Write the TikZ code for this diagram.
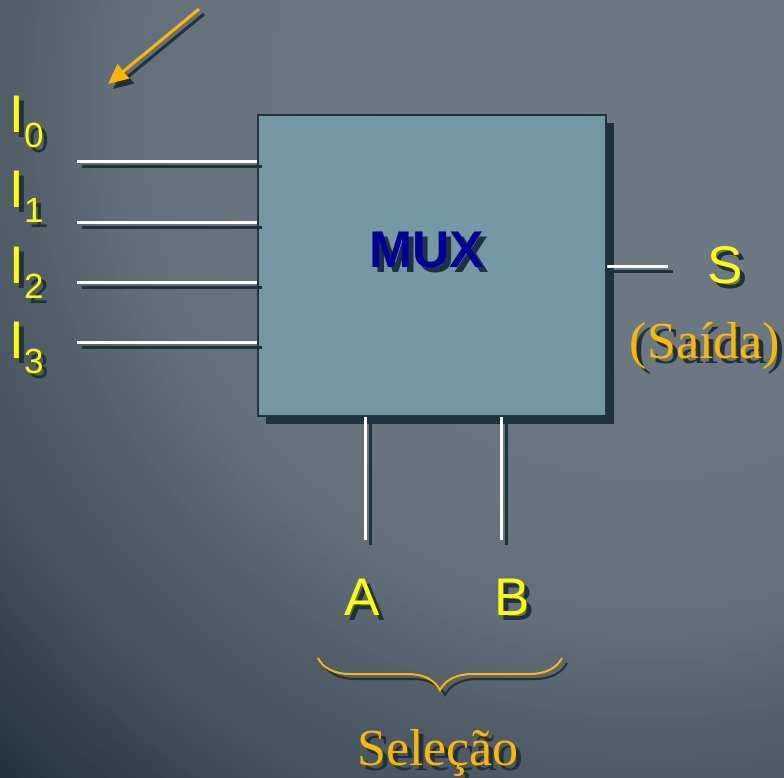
\documentclass[tikz,border=0pt]{standalone}
\usepackage{fontspec}
\setmainfont{Liberation Serif}
\newfontfamily\arialfont{Liberation Sans}
\usetikzlibrary{positioning,calc,shadows,decorations.pathreplacing,arrows.meta}

\definecolor{bga}{RGB}{110,122,131}
\definecolor{bgb}{RGB}{107,119,128}
\definecolor{bgc}{RGB}{100,112,121}
\definecolor{bgd}{RGB}{81,93,103}
\definecolor{bge}{RGB}{74,86,98}
\definecolor{bgf}{RGB}{71,83,94}
\definecolor{bgg}{RGB}{59,71,82}
\definecolor{bgh}{RGB}{34,48,62}
\definecolor{boxfill}{RGB}{116,152,164}
\definecolor{boxline}{RGB}{31,53,64}
\definecolor{shadowc}{RGB}{30,50,62}
\definecolor{yel}{RGB}{255,255,0}
\definecolor{orng}{RGB}{255,182,0}
\definecolor{navy}{RGB}{0,0,153}

\newcommand\sub[1]{\raisebox{-7.5pt}{\fontsize{17.5}{17.5}\selectfont #1}}
\newcommand\lbl[4]{%
  \node[#2, text=shadowc] (#1s) at ($(#3)+(5,5)$) {#4};
  \node[#2] (#1) at (#3) {#4};}

\begin{document}
\begin{tikzpicture}[x=0.5pt,y=-0.5pt,
    muxbox/.style={draw=boxline, fill=boxfill, line width=1pt, inner sep=0pt,
      minimum width=174pt, minimum height=150.5pt,
      drop shadow={shadow xshift=4pt, shadow yshift=-4pt, fill=shadowc, opacity=1}},
    wire/.style={draw=white, line width=1.5pt},
    wireshadow/.style={draw=shadowc, line width=1.5pt},
    siglbl/.style={font=\arialfont\fontsize{26.5}{26.5}\selectfont, text=yel, inner sep=0pt, anchor=base},
    inlbl/.style={siglbl, anchor=base west},
    serlbl/.style={font=\fontsize{26}{26}\selectfont, text=orng, inner sep=0pt, anchor=base},
    muxtxt/.style={font=\arialfont\bfseries\fontsize{25.8}{25.8}\selectfont, text=navy, inner sep=0pt, anchor=base},
    bracestyle/.style={decorate, decoration={brace, mirror, amplitude=16pt}, line width=1pt}]
  \useasboundingbox (0,0) rectangle (784,778);
  % background, rings round the light spot
  \begin{scope}
    \clip (0,0) rectangle (784,778);
    \foreach \ra/\rb/\ca/\cb in {817/950/bgg/bgh, 760/817/bgf/bgg, 722/760/bge/bgf,
        646/722/bgd/bge, 532/646/bgc/bgd, 342/532/bgb/bgc, 0/342/bga/bgb}{
      \foreach \k in {0,...,15}{
        \pgfmathsetmacro\rr{(\rb-\k*(\rb-\ra)/16)/2}
        \pgfmathsetmacro\pp{100-\k*100/16}
        \fill[\cb!\pp!\ca] (650,100) circle (\rr pt);
      }
    }
  \end{scope}

  % arrow
  \coordinate (ah) at (199,9);
  \coordinate (at) at (108,84);
  \draw[shadowc, line width=1.5pt, -{Triangle[length=10pt,width=9pt]}] ($(ah)+(5,5)$) -- ($(at)+(5,5)$);
  \draw[orng, line width=1.5pt, -{Triangle[length=10pt,width=9pt]}] (ah) -- (at);

  % multiplexer
  \node[muxbox] (mux) at (432,265.5) {};
  \lbl{muxlbl}{muxtxt}{427,267}{MUX}

  % inputs
  \foreach \n/\y/\b in {0/161/132, 1/222/207, 2/282/283, 3/342/358}{
    \coordinate (in\n) at (77,\y);
    \draw[wireshadow] ($(in\n)+(5,5)$) -- ($(in\n -| mux.west)+(5,5)$);
    \draw[wire] (in\n) -- (in\n -| mux.west);
    \lbl{i\n}{inlbl}{9,\b}{I\sub{\n}}
  }

  % output
  \coordinate (out) at (668,266);
  \draw[wireshadow] ($(mux.east |- out)+(5,5)$) -- ($(out)+(5,5)$);
  \draw[wire] (mux.east |- out) -- (out);
  \lbl{s}{siglbl}{725,283}{S}
  \lbl{saida}{serlbl}{705,358}{(Saída)}

  % selection
  \coordinate (a) at (365,540);
  \coordinate (b) at (501,540);
  \foreach \p in {a,b}{
    \draw[wireshadow] ($(\p |- mux.south)+(5,5)$) -- ($(\p)+(5,5)$);
    \draw[wire] (\p |- mux.south) -- (\p);
  }
  \lbl{albl}{siglbl}{362,615}{A}
  \lbl{blbl}{siglbl}{512,615}{B}

  \coordinate (bl) at (318,658);
  \coordinate (br) at (562,658);
  \draw[bracestyle, shadowc] ($(bl)+(5,5)$) -- ($(br)+(5,5)$);
  \draw[bracestyle, orng] (bl) -- (br);
  \lbl{sel}{serlbl}{438,765}{Seleção}
\end{tikzpicture}
\end{document}
